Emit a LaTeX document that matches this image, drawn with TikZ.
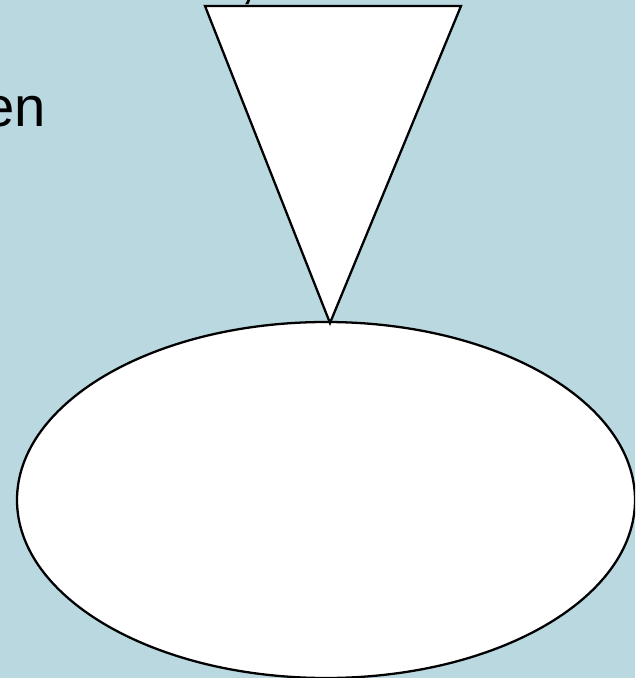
\documentclass[tikz,border=0pt]{standalone}
\usepackage{fontspec}
\setmainfont{Liberation Sans}
\usepackage{xcolor}
\definecolor{slidebg}{RGB}{185,216,224}
\usetikzlibrary{positioning}

\begin{document}
\begin{tikzpicture}[x=0.02cm,y=-0.02cm,
    shape line/.style={draw=black,fill=white,line width=1.3pt,line join=miter},
    slide text/.style={inner sep=0pt,font=\fontsize{32}{38}\selectfont}]
  \clip (0,0) rectangle (635,678);
  \fill[slidebg] (0,0) rectangle (635,678);
  % text lines, cut off by the slide border
  \node[slide text,anchor=base west] (line1) at (28,-2.5) {Grafiken, etc.};
  \node[slide text,anchor=base east] (line2) at (46,127) {Tabellen};
  % funnel and pool
  \coordinate (tl) at (205,6);
  \coordinate (tr) at (461,6);
  \coordinate (tip) at (330,323);
  \draw[shape line] (326,500) ellipse [x radius=309,y radius=178];
  \draw[shape line] (tl) -- (tr) -- (tip) -- cycle;
\end{tikzpicture}
\end{document}
